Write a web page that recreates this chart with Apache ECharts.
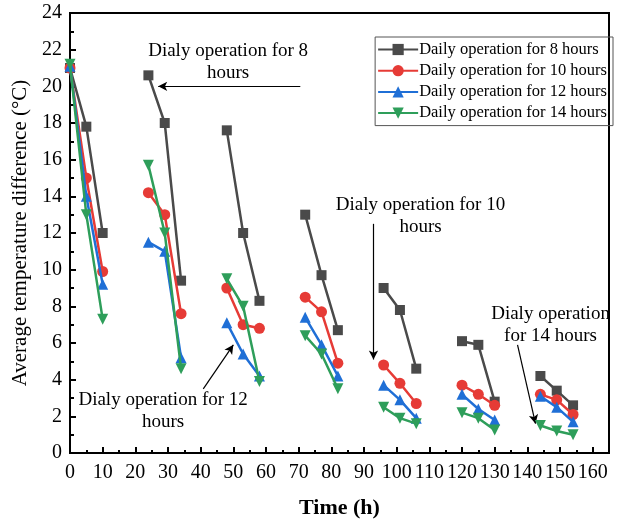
<!DOCTYPE html>
<html>
<head>
<meta charset="utf-8">
<script src="https://cdn.jsdelivr.net/npm/echarts@6/dist/echarts.min.js"></script>
<style>
html,body{margin:0;padding:0;background:#fff;}
#chart{width:622px;height:524px;}
</style>
</head>
<body>
<div id="chart"></div>
<script>
// Time points (h), three per daily operating cycle, seven cycles
const times = [0, 5, 10, 24, 29, 34, 48, 53, 58, 72, 77, 82, 96, 101, 106, 120, 125, 130, 144, 149, 154];
const pointsPerCycle = 3;
// Average temperature difference (°C)
const h8  = [21.0, 17.8, 12.0, 20.6, 18.0, 9.4, 17.6, 12.0, 8.3, 13.0, 9.7, 6.7, 9.0, 7.8, 4.6, 6.1, 5.9, 2.8, 4.2, 3.4, 2.6];
const h10 = [21.0, 15.0, 9.9, 14.2, 13.0, 7.6, 9.0, 7.0, 6.8, 8.5, 7.7, 4.9, 4.8, 3.8, 2.7, 3.7, 3.2, 2.6, 3.2, 2.9, 2.1];
const h12 = [21.1, 14.0, 9.2, 11.5, 11.0, 5.2, 7.1, 5.4, 4.2, 7.4, 5.9, 4.2, 3.7, 2.9, 1.9, 3.2, 2.4, 1.8, 3.1, 2.5, 1.7];
const h14 = [21.2, 13.0, 7.3, 15.7, 12.0, 4.6, 9.5, 8.0, 3.9, 6.4, 5.4, 3.5, 2.5, 1.9, 1.6, 2.2, 1.9, 1.25, 1.5, 1.2, 1.0];
const seriesNames = ['Daily operation for 8 hours', 'Daily operation for 10 hours', 'Daily operation for 12 hours', 'Daily operation for 14 hours'];
const xTickLabels = [0, 10, 20, 30, 40, 50, 60, 70, 80, 90, 100, 110, 120, 130, 140, 150, 160];
const yTickLabels = [0, 2, 4, 6, 8, 10, 12, 14, 16, 18, 20, 22, 24];
// Annotations: text anchor in data coords, arrow from -> to in data coords
const annotations = [
  {text: 'Dialy operation for 8\nhours', at: [48.4, 21.3], from: [70.5, 20.0], to: [27.0, 20.0]},
  {text: 'Dialy operation for 10\nhours', at: [107.3, 12.9], from: [92.9, 12.5], to: [92.9, 5.1]},
  {text: 'Dialy operation for 12\nhours', at: [28.5, 2.3], from: [40.8, 3.5], to: [50.0, 5.9]},
  {text: 'Dialy operation\nfor 14 hours', at: [147.1, 7.0], from: [137.0, 5.9], to: [142.5, 1.6]}
];

const colors = ['#4a4a4a', '#e63b36', '#1f6fd6', '#2e9e5a'];
const symbols = ['rect', 'circle', 'triangle', 'path://M0,0 L10,0 L5,9 Z'];
const symbolSizes = [10, 11, 11, 11];
const FONT = '"Liberation Serif", "Times New Roman", serif';

function buildData(vals) {
  const out = [];
  for (let i = 0; i < times.length; i++) {
    if (i > 0 && i % pointsPerCycle === 0) out.push('-');
    out.push([times[i], vals[i]]);
  }
  return out;
}

const allVals = [h8, h10, h12, h14];
const series = allVals.map((v, k) => ({
  name: seriesNames[k],
  type: 'line',
  data: buildData(v),
  connectNulls: false,
  symbol: symbols[k],
  symbolSize: symbolSizes[k],
  showAllSymbol: true,
  lineStyle: {color: colors[k], width: 2.5},
  itemStyle: {color: colors[k]},
  z: 2 + k
}));

// arrows via markLine in data coordinates
series.push({
  name: 'annot',
  type: 'line',
  data: [],
  silent: true,
  markLine: {
    silent: true,
    symbol: ['none', 'arrow'],
    symbolSize: [7, 9],
    label: {show: false},
    lineStyle: {color: '#000', width: 1.2, type: 'solid'},
    data: annotations.map(a => [{coord: a.from}, {coord: a.to}])
  }
});

const chart = echarts.init(document.getElementById('chart'), null, {renderer: 'canvas'});
chart.setOption({
  animation: false,
  backgroundColor: '#fff',
  textStyle: {fontFamily: FONT},
  grid: {left: 70, right: 13, top: 13, bottom: 68, show: true, borderColor: '#000', borderWidth: 2, backgroundColor: 'transparent'},
  legend: {
    data: seriesNames,
    orient: 'vertical',
    right: 9,
    top: 37,
    padding: [4, 6, 4, 2],
    itemGap: 4.2,
    itemWidth: 40,
    itemHeight: 14,
    borderColor: '#555',
    borderWidth: 1,
    textStyle: {fontFamily: FONT, fontSize: 16.5, color: '#000', padding: [0, 0, 0, -4]}
  },
  xAxis: {
    type: 'value',
    min: 0, max: 165, interval: 10,
    name: 'Time (h)',
    nameLocation: 'middle',
    nameGap: 44,
    nameTextStyle: {fontFamily: FONT, fontSize: 22, fontWeight: 'bold', color: '#000'},
    axisLine: {lineStyle: {color: '#000', width: 2}},
    axisTick: {inside: true, length: 6, lineStyle: {color: '#000', width: 2}},
    minorTick: {show: true, splitNumber: 2, length: 3, lineStyle: {color: '#000', width: 2}},
    splitLine: {show: false},
    axisLabel: {fontFamily: FONT, fontSize: 20, color: '#000', margin: 10,
      formatter: v => xTickLabels.indexOf(v) >= 0 ? String(v) : ''}
  },
  yAxis: {
    type: 'value',
    min: 0, max: 24, interval: 2,
    name: 'Average temperature difference (°C)',
    nameLocation: 'middle',
    nameGap: 37,
    nameTextStyle: {fontFamily: FONT, fontSize: 21, color: '#000'},
    axisLine: {lineStyle: {color: '#000', width: 2}},
    axisTick: {inside: true, length: 6, lineStyle: {color: '#000', width: 2}},
    minorTick: {show: true, splitNumber: 2, length: 4, lineStyle: {color: '#000', width: 2}},
    splitLine: {show: false},
    axisLabel: {fontFamily: FONT, fontSize: 20, color: '#000', margin: 8,
      formatter: v => yTickLabels.indexOf(v) >= 0 ? String(v) : ''}
  },
  series: series
});

// annotation texts placed through the axes' own scales
const graphics = annotations.map(a => {
  const p = chart.convertToPixel({gridIndex: 0}, a.at);
  return {
    type: 'text',
    x: p[0], y: p[1],
    silent: true,
    style: {text: a.text, fill: '#000', font: '19px ' + FONT, align: 'center', verticalAlign: 'middle', lineHeight: 22}
  };
});
chart.setOption({graphic: graphics});
</script>
</body>
</html>
